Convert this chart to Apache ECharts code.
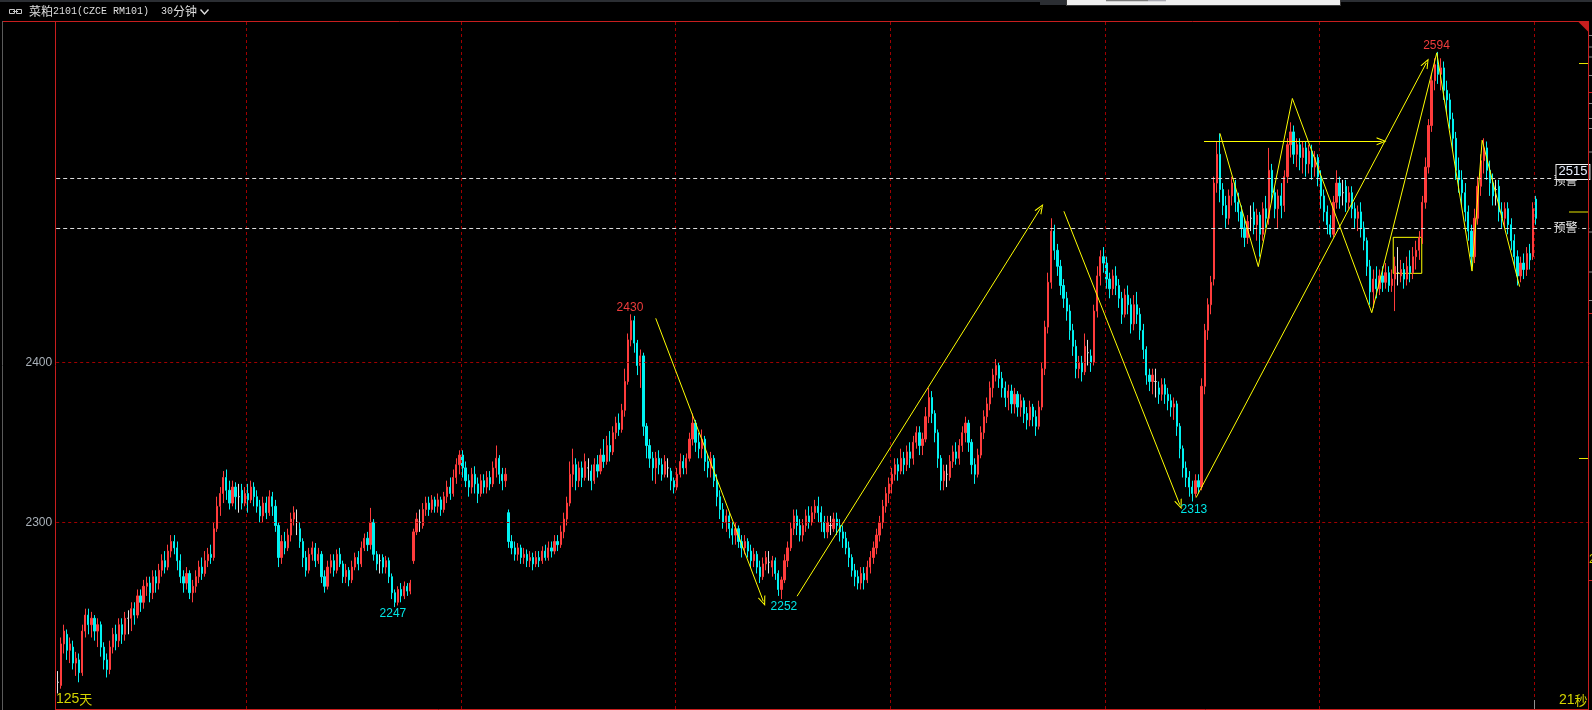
<!DOCTYPE html>
<html><head><meta charset="utf-8">
<script src="https://cdn.jsdelivr.net/npm/echarts@6/dist/echarts.min.js"></script>
<style>html,body{margin:0;padding:0;background:#000;overflow:hidden}#c{width:1592px;height:710px}</style>
</head><body><div id="c"></div>
<script>
// [open, close, low, high] per 30-minute bar
const ohlc = [
[2200,2200,2193,2207],[2198,2224,2196,2228],[2224,2232,2218,2236],[2230,2220,2214,2233],[2220,2224,2212,2228],
[2222,2212,2208,2226],[2212,2215,2204,2219],[2214,2206,2200,2218],[2206,2232,2204,2236],[2232,2242,2228,2246],
[2242,2236,2230,2246],[2236,2240,2228,2244],[2240,2232,2226,2242],[2232,2236,2222,2240],[2236,2222,2216,2238],
[2222,2214,2208,2225],[2214,2208,2203,2218],[2208,2222,2205,2226],[2222,2230,2218,2234],[2230,2226,2220,2236],
[2226,2236,2222,2240],[2236,2230,2224,2240],[2230,2240,2226,2244],[2240,2240,2230,2245],[2240,2246,2232,2250],
[2246,2242,2236,2250],[2242,2254,2240,2258],[2254,2250,2244,2258],[2250,2260,2246,2264],[2260,2262,2254,2266],
[2262,2256,2250,2266],[2256,2266,2252,2270],[2266,2262,2256,2270],[2262,2270,2258,2274],[2270,2276,2266,2280],
[2276,2272,2268,2282],[2272,2282,2270,2286],[2282,2288,2278,2292],[2288,2284,2280,2292],[2284,2276,2270,2288],
[2276,2266,2262,2280],[2266,2262,2256,2270],[2262,2268,2258,2272],[2268,2256,2252,2270],[2256,2260,2250,2264],
[2260,2266,2256,2270],[2266,2272,2262,2276],[2272,2268,2264,2278],[2268,2276,2266,2282],[2276,2280,2272,2284],
[2280,2278,2274,2286],[2278,2296,2276,2300],[2296,2310,2294,2316],[2310,2318,2304,2322],[2318,2328,2312,2332],
[2328,2320,2314,2333],[2320,2312,2308,2326],[2312,2322,2310,2326],[2322,2316,2308,2325],[2316,2316,2306,2324],
[2320,2312,2308,2324],[2312,2318,2310,2322],[2318,2314,2306,2324],[2314,2322,2312,2326],[2322,2316,2310,2325],
[2316,2310,2306,2320],[2310,2304,2300,2314],[2304,2312,2300,2316],[2312,2306,2302,2316],[2306,2316,2304,2320],
[2316,2310,2304,2319],[2310,2298,2294,2314],[2298,2278,2272,2300],[2278,2288,2274,2292],[2288,2284,2280,2294],
[2284,2292,2282,2296],[2292,2302,2288,2306],[2302,2306,2298,2310],[2300,2300,2292,2308],[2296,2288,2284,2300],
[2288,2278,2272,2290],[2278,2270,2266,2282],[2270,2280,2268,2284],[2280,2284,2276,2288],[2284,2276,2272,2287],
[2276,2280,2274,2284],[2280,2266,2262,2282],[2266,2260,2256,2270],[2260,2272,2258,2276],[2272,2276,2268,2280],
[2276,2270,2266,2280],[2270,2280,2268,2283],[2280,2274,2272,2284],[2274,2266,2262,2276],[2266,2270,2262,2274],
[2270,2264,2260,2272],[2264,2272,2262,2276],[2272,2278,2270,2281],[2278,2274,2270,2282],[2274,2284,2272,2288],
[2284,2290,2282,2293],[2290,2286,2282,2294],[2286,2300,2283,2309],[2300,2280,2276,2302],[2280,2274,2270,2282],
[2276,2276,2268,2280],[2278,2272,2268,2280],[2272,2276,2268,2279],[2276,2266,2262,2278],[2266,2256,2252,2268],
[2256,2250,2247,2258],[2250,2258,2248,2260],[2258,2254,2250,2262],[2254,2260,2252,2263],[2260,2257,2254,2262],
[2257,2262,2255,2264],[2276,2294,2274,2296],[2294,2302,2292,2306],[2300,2300,2294,2308],[2298,2308,2296,2312],
[2308,2312,2304,2316],[2312,2308,2304,2316],[2308,2314,2306,2317],[2314,2310,2306,2316],[2310,2314,2306,2318],
[2314,2308,2304,2316],[2308,2316,2306,2319],[2316,2322,2312,2326],[2322,2318,2314,2328],[2318,2328,2316,2333],
[2328,2336,2324,2340],[2336,2342,2330,2345],[2342,2334,2328,2345],[2334,2326,2322,2338],[2326,2322,2316,2330],
[2322,2330,2318,2334],[2330,2324,2318,2335],[2324,2318,2312,2328],[2318,2326,2316,2330],[2326,2322,2318,2330],
[2322,2328,2318,2332],[2328,2324,2320,2332],[2324,2334,2322,2338],[2334,2340,2328,2348],[2340,2330,2324,2342],
[2330,2326,2320,2334],[2326,2330,2322,2334],[2306,2288,2284,2308],[2288,2284,2280,2292],[2284,2280,2276,2288],
[2280,2284,2276,2287],[2284,2278,2274,2286],[2278,2280,2274,2284],[2280,2276,2272,2283],[2276,2278,2272,2282],
[2278,2274,2270,2281],[2274,2278,2272,2282],[2278,2276,2272,2282],[2276,2282,2274,2285],[2282,2278,2276,2286],
[2278,2284,2276,2288],[2284,2282,2278,2288],[2282,2288,2280,2292],[2288,2286,2282,2292],[2286,2294,2284,2298],
[2294,2302,2290,2306],[2302,2312,2298,2316],[2312,2330,2310,2338],[2330,2336,2322,2346],[2336,2326,2320,2340],
[2326,2334,2322,2338],[2334,2328,2322,2338],[2328,2338,2326,2343],[2334,2334,2326,2340],[2332,2326,2320,2336],
[2326,2336,2324,2340],[2336,2332,2328,2342],[2332,2342,2330,2346],[2342,2338,2334,2352],[2338,2348,2336,2354],
[2348,2344,2338,2357],[2344,2356,2342,2360],[2356,2362,2352,2366],[2362,2358,2354,2368],[2358,2370,2356,2374],
[2370,2388,2366,2396],[2388,2414,2386,2418],[2414,2426,2410,2430],[2426,2412,2406,2429],[2412,2398,2392,2414],
[2398,2404,2384,2408],[2404,2360,2354,2406],[2360,2348,2340,2362],[2348,2340,2334,2352],[2340,2334,2326,2344],
[2334,2340,2324,2344],[2340,2336,2330,2345],[2336,2330,2326,2340],[2330,2338,2328,2342],[2334,2334,2328,2340],
[2332,2326,2320,2334],[2326,2322,2318,2328],[2322,2330,2320,2334],[2330,2338,2328,2343],[2338,2334,2330,2342],
[2334,2340,2330,2343],[2340,2352,2338,2356],[2352,2362,2348,2368],[2362,2350,2344,2364],[2350,2346,2340,2356],
[2346,2352,2340,2358],[2352,2338,2332,2354],[2338,2334,2328,2342],[2334,2340,2328,2344],[2340,2326,2322,2342],
[2326,2316,2310,2330],[2316,2308,2302,2320],[2308,2300,2296,2312],[2300,2304,2294,2308],[2304,2296,2290,2306],
[2296,2292,2286,2300],[2292,2296,2286,2300],[2296,2288,2284,2298],[2288,2284,2278,2292],[2284,2288,2280,2292],
[2288,2282,2278,2290],[2282,2276,2272,2286],[2276,2280,2272,2284],[2280,2272,2268,2282],[2272,2266,2262,2276],
[2266,2274,2264,2278],[2274,2278,2270,2282],[2275,2275,2268,2282],[2272,2276,2266,2279],[2276,2268,2264,2278],
[2268,2258,2254,2270],[2258,2264,2252,2266],[2264,2276,2262,2280],[2276,2284,2272,2288],[2284,2296,2282,2300],
[2296,2304,2292,2308],[2304,2298,2292,2308],[2298,2292,2288,2302],[2292,2298,2288,2302],[2298,2304,2294,2308],
[2304,2300,2296,2310],[2300,2306,2298,2310],[2306,2310,2302,2314],[2310,2306,2300,2316],[2306,2300,2294,2310],
[2300,2294,2290,2304],[2294,2300,2290,2304],[2298,2298,2292,2304],[2296,2302,2294,2306],[2302,2298,2292,2306],
[2298,2294,2288,2302],[2294,2290,2284,2298],[2290,2284,2280,2294],[2284,2278,2272,2288],[2278,2270,2266,2280],
[2270,2266,2260,2274],[2266,2262,2258,2270],[2262,2268,2258,2272],[2268,2264,2258,2272],[2264,2272,2262,2276],
[2272,2278,2268,2282],[2278,2284,2274,2288],[2284,2292,2280,2296],[2292,2300,2288,2304],[2300,2310,2296,2314],
[2310,2318,2306,2322],[2318,2324,2312,2328],[2324,2330,2318,2334],[2330,2336,2326,2340],[2336,2332,2326,2340],
[2332,2340,2330,2346],[2340,2336,2330,2344],[2336,2344,2332,2348],[2344,2340,2334,2350],[2340,2350,2336,2354],
[2350,2356,2346,2360],[2356,2348,2342,2360],[2348,2352,2342,2356],[2352,2366,2350,2372],[2366,2378,2362,2384],
[2378,2368,2362,2382],[2368,2356,2350,2370],[2356,2340,2334,2358],[2340,2326,2320,2342],[2326,2332,2320,2336],
[2330,2330,2322,2336],[2328,2338,2326,2342],[2338,2344,2334,2348],[2344,2340,2336,2350],[2340,2348,2336,2352],
[2348,2356,2344,2360],[2356,2362,2350,2366],[2362,2350,2344,2364],[2350,2336,2330,2352],[2336,2330,2324,2340],
[2330,2342,2328,2346],[2342,2356,2340,2360],[2356,2366,2352,2370],[2366,2374,2362,2378],[2374,2384,2370,2388],
[2384,2392,2378,2396],[2392,2398,2388,2402],[2398,2390,2384,2400],[2390,2384,2378,2394],[2384,2378,2372,2388],
[2378,2382,2370,2386],[2382,2374,2368,2386],[2374,2380,2368,2384],[2380,2372,2366,2382],[2372,2376,2366,2380],
[2376,2368,2362,2378],[2368,2364,2358,2372],[2364,2372,2360,2376],[2372,2366,2360,2374],[2366,2360,2354,2370],
[2360,2372,2358,2376],[2372,2396,2370,2400],[2396,2422,2392,2426],[2422,2450,2418,2456],[2450,2482,2446,2490],
[2482,2470,2464,2486],[2470,2460,2454,2474],[2460,2448,2442,2464],[2448,2440,2434,2452],[2440,2432,2426,2444],
[2432,2420,2414,2436],[2420,2410,2404,2424],[2410,2396,2390,2414],[2396,2400,2390,2404],[2400,2394,2388,2404],
[2394,2410,2392,2418],[2406,2406,2398,2414],[2404,2400,2394,2408],[2400,2432,2398,2436],[2432,2454,2428,2460],
[2454,2466,2448,2470],[2466,2462,2456,2472],[2462,2452,2446,2466],[2452,2446,2440,2456],[2446,2454,2442,2458],
[2454,2448,2442,2460],[2448,2440,2434,2452],[2440,2430,2424,2444],[2430,2442,2428,2446],[2442,2436,2430,2448],
[2436,2424,2418,2440],[2424,2436,2420,2442],[2436,2430,2424,2444],[2430,2420,2414,2434],[2420,2408,2402,2424],
[2408,2392,2386,2410],[2392,2388,2382,2396],[2388,2392,2380,2396],[2388,2388,2378,2396],[2384,2380,2374,2388],
[2380,2386,2376,2390],[2386,2380,2374,2390],[2380,2376,2370,2384],[2376,2372,2366,2380],[2372,2374,2364,2378],
[2374,2360,2354,2376],[2360,2346,2340,2362],[2346,2334,2328,2348],[2334,2328,2322,2338],[2328,2322,2316,2332],
[2322,2318,2313,2326],[2318,2326,2316,2330],[2326,2322,2318,2330],[2322,2385,2320,2390],[2385,2420,2380,2424],
[2420,2436,2414,2440],[2436,2450,2430,2454],[2452,2512,2448,2516],[2512,2530,2506,2538],[2530,2508,2500,2543],
[2508,2498,2492,2512],[2498,2490,2484,2504],[2490,2504,2486,2508],[2504,2512,2498,2516],[2512,2500,2494,2514],
[2500,2494,2488,2506],[2494,2484,2478,2498],[2484,2478,2472,2490],[2478,2488,2474,2492],[2490,2490,2482,2498],
[2494,2486,2480,2500],[2486,2492,2476,2496],[2492,2480,2466,2494],[2480,2496,2476,2500],[2496,2490,2484,2504],
[2490,2520,2486,2534],[2520,2506,2500,2524],[2506,2496,2490,2510],[2496,2504,2484,2508],[2504,2498,2490,2512],
[2498,2516,2494,2520],[2516,2536,2512,2540],[2536,2544,2528,2550],[2544,2530,2524,2548],[2530,2536,2522,2540],
[2536,2528,2520,2540],[2528,2534,2518,2538],[2534,2524,2516,2538],[2524,2532,2518,2536],[2532,2522,2514,2536],
[2522,2528,2516,2532],[2528,2516,2510,2530],[2516,2504,2496,2520],[2504,2494,2488,2508],[2494,2486,2480,2498],
[2486,2480,2478,2492],[2480,2500,2478,2504],[2500,2512,2496,2520],[2512,2504,2496,2516],[2506,2506,2498,2514],
[2510,2500,2494,2514],[2500,2506,2496,2510],[2506,2496,2490,2510],[2496,2490,2484,2500],[2490,2494,2482,2498],
[2494,2484,2478,2500],[2484,2476,2470,2488],[2476,2460,2454,2478],[2460,2444,2436,2464],[2444,2452,2434,2458],
[2452,2446,2440,2460],[2446,2454,2442,2458],[2454,2450,2444,2460],[2450,2456,2446,2462],[2456,2448,2444,2460],
[2448,2452,2444,2458],[2452,2460,2432,2466],[2456,2456,2448,2472],[2454,2458,2450,2464],[2458,2452,2446,2462],
[2452,2460,2448,2466],[2460,2456,2450,2470],[2456,2466,2452,2472],[2466,2470,2458,2476],[2470,2478,2464,2482],
[2478,2500,2474,2504],[2500,2522,2496,2528],[2522,2548,2518,2552],[2548,2576,2544,2580],[2576,2586,2570,2590],
[2586,2580,2574,2594],[2580,2584,2570,2590],[2584,2570,2564,2588],[2570,2564,2556,2576],[2564,2552,2546,2568],
[2552,2540,2532,2556],[2540,2520,2514,2544],[2520,2514,2506,2528],[2514,2506,2498,2520],[2506,2494,2488,2512],
[2494,2482,2476,2498],[2482,2466,2458,2486],[2466,2490,2462,2496],[2490,2510,2486,2516],[2510,2526,2504,2530],
[2526,2534,2518,2540],[2534,2520,2514,2538],[2520,2512,2504,2526],[2512,2504,2498,2518],[2508,2508,2498,2514],
[2510,2494,2488,2514],[2494,2490,2484,2500],[2490,2496,2484,2500],[2496,2486,2480,2500],[2486,2476,2470,2490],
[2476,2466,2460,2480],[2466,2454,2448,2470],[2454,2462,2450,2466],[2462,2458,2452,2468],[2458,2468,2454,2472],
[2468,2464,2458,2474],[2466,2496,2464,2500],[2502,2490,2486,2504]
];
const slotCount = 500;                     // category slots on the time axis (bars + right margin)
const yTicks = [2300, 2400];
const alertLevels = [2515, 2484];
const monthBounds = [61.5, 131.5, 201.5, 271.5, 341.5, 411.5, 481.5];
const zigzag = [[379.0,2543.1],[391.5,2459.8],[402.6,2564.9],[428.5,2431.0],[449.7,2593.4],[461.2,2457.0],[464.5,2538.8],[476.7,2447.3]];
const arrowLines = [
  [[195.0,2427.5],[230.1,2250.6]],
  [[241.1,2253.8],[320.5,2496.3]],
  [[328.1,2494.4],[365.9,2311.0]],
  [[371.2,2315.4],[446.3,2587.1]],
  [[373.8,2538.1],[431.7,2538.1]]
];
const boxArea = [[435.5,2478.1],[444.8,2455.6]];
const extremeLabels = [
  {text:'2430', x:186.6, y:2434.4, up:true},
  {text:'2247', x:109.3, y:2242.7, up:false},
  {text:'2252', x:236.8, y:2247.1, up:false},
  {text:'2313', x:370.5, y:2308.0, up:false},
  {text:'2594', x:449.6, y:2597.6, up:true}
];
const categories = [];
for (let i = 0; i < slotCount; i++) categories.push(String(i));

const RED = '#ff3c3c', CYAN = '#00f2f2', YEL = '#ffff00', FRAME = '#c81e1e', GRIDRED = '#a00000';
const NUMFONT = 'Liberation Sans, Arial, sans-serif';
const CJK = 'Noto Sans CJK SC, sans-serif';
const chevron = 'path://M0,10L5,0L10,10L8.6,10L5,2.8L1.4,10Z';

const chart = echarts.init(document.getElementById('c'), null, {renderer: 'canvas'});

const gridMarks = monthBounds.map(v => ({xAxis: v}))
  .concat(yTicks.map(v => ({yAxis: v, label: {show: true, position: 'start', distance: 4, formatter: String(v),
     color: '#a8b0b8', fontSize: 12, fontFamily: NUMFONT}})));

const option = {
  backgroundColor: '#000',
  animation: false,
  grid: {left: 56.2, right: 2.5, top: 21.5, bottom: 1, show: false},
  xAxis: [
    {type: 'category', data: categories, boundaryGap: true, show: false},
    {type: 'value', min: -0.5, max: slotCount - 0.5, show: false}
  ],
  yAxis: {type: 'value', min: 2183.3, max: 2613.0, show: false, scale: true},
  series: [
    { // background grid lines and left price labels
      type: 'line', xAxisIndex: 1, data: [], z: 1, silent: true,
      markLine: {
        silent: true, symbol: ['none', 'none'], animation: false,
        label: {show: false},
        lineStyle: {color: GRIDRED, type: [3, 3], width: 1},
        emphasis: {disabled: true},
        data: gridMarks
      }
    },
    {
      type: 'candlestick', xAxisIndex: 0, data: ohlc, z: 3, barWidth: 1.7,
      itemStyle: {color: RED, color0: CYAN, borderColor: RED, borderColor0: CYAN,
                  borderColorDoji: '#e4e4e4', borderWidth: 1}
    },
    { // drawn annotations
      type: 'line', xAxisIndex: 1, data: zigzag, z: 5, silent: true,
      showSymbol: false, symbol: 'none',
      lineStyle: {color: YEL, width: 1},
      markLine: {
        silent: true, animation: false,
        symbol: ['none', chevron], symbolSize: [8, 10],
        label: {show: false},
        lineStyle: {color: YEL, width: 1, type: 'solid'},
        emphasis: {disabled: true},
        data: arrowLines.map(p => [{coord: p[0]}, {coord: p[1]}])
      },
      markArea: {
        silent: true,
        itemStyle: {color: 'rgba(0,0,0,0)', borderColor: YEL, borderWidth: 1},
        data: [[{coord: boxArea[0]}, {coord: boxArea[1]}]]
      },
      markPoint: {
        silent: true, animation: false,
        symbol: 'circle', symbolSize: 0.1, itemStyle: {color: 'rgba(0,0,0,0)'},
        data: extremeLabels.map(d => ({coord: [d.x, d.y], label: {show: true, position: 'inside', formatter: d.text,
          color: d.up ? '#f03c3c' : '#00e6e6', fontSize: 12, fontFamily: NUMFONT}}))
      }
    },
    { // alert (预警) lines
      type: 'line', xAxisIndex: 1, data: [], z: 6, silent: true,
      markLine: {
        silent: true, symbol: ['none', 'none'], animation: false,
        label: {show: false},
        lineStyle: {color: '#dcdcdc', type: [4, 3], width: 1},
        emphasis: {disabled: true},
        data: alertLevels.map(v => ({yAxis: v}))
      },
      markPoint: {
        silent: true, animation: false,
        symbol: 'circle', symbolSize: 0.1, itemStyle: {color: 'rgba(0,0,0,0)'},
        data: [
          {coord: [491.7, 2513.9], label: {show: true, position: 'inside', formatter: '预警', color: '#f0f0f0',
             fontSize: 12, fontFamily: CJK, backgroundColor: '#000', padding: [0, 1]}},
          {coord: [491.7, 2484.0], label: {show: true, position: 'inside', formatter: '预警', color: '#f0f0f0',
             fontSize: 12, fontFamily: CJK, backgroundColor: '#000', padding: [0, 1]}}
        ]
      }
    },
    { // current alert price box
      type: 'line', xAxisIndex: 1, data: [], z: 8, silent: true,
      markPoint: {
        silent: true, animation: false,
        symbol: 'circle', symbolSize: 0.1, itemStyle: {color: 'rgba(0,0,0,0)'},
        data: [{coord: [494.1, 2519.0], label: {show: true, position: 'inside', formatter: '2515', color: '#e8f0ff',
          fontSize: 13, fontFamily: NUMFONT, backgroundColor: '#000', borderColor: '#f0f0f0', borderWidth: 1,
          padding: [1, 2, 0, 2]}}]
      }
    }
  ],
  graphic: [
    {type: 'rect', shape: {x: 0, y: 0, width: 1592, height: 2}, style: {fill: '#2b2e33'}, silent: true},
    {type: 'rect', shape: {x: 1040, y: 0, width: 27, height: 5}, style: {fill: '#2b2e33'}, silent: true},
    {type: 'rect', shape: {x: 1066.5, y: -1, width: 274, height: 6.5}, style: {fill: '#eeeeee', stroke: '#3a3a3a', lineWidth: 1}, silent: true},
    {type: 'rect', shape: {x: 1106, y: 0, width: 42, height: 1.3}, style: {fill: '#7a7a7a'}, silent: true},
    {type: 'rect', shape: {x: 1148, y: 0, width: 18, height: 1.3}, style: {fill: '#a9a9b2'}, silent: true},
    // link icon
    {type: 'rect', shape: {x: 9.5, y: 9.5, width: 5, height: 4}, style: {fill: 'none', stroke: '#c8c8c8', lineWidth: 1}, silent: true},
    {type: 'rect', shape: {x: 16.5, y: 9.5, width: 5, height: 4}, style: {fill: 'none', stroke: '#c8c8c8', lineWidth: 1}, silent: true},
    {type: 'line', shape: {x1: 13, y1: 11.5, x2: 18, y2: 11.5}, style: {stroke: '#c8c8c8', lineWidth: 1}, silent: true},
    {type: 'text', left: 29, top: 5, silent: true, style: {text: '{c|菜粕}{m|2101(CZCE RM101)}', fill: '#dedede',
      rich: {c: {fontSize: 12, fontFamily: CJK, fill: '#dedede'}, m: {fontSize: 10, fontFamily: 'Liberation Mono, DejaVu Sans Mono, monospace', fill: '#dedede'}}}},
    {type: 'text', left: 161, top: 5, silent: true, style: {text: '{m|30}{c|分钟}', fill: '#dedede',
      rich: {c: {fontSize: 12, fontFamily: CJK, fill: '#dedede'}, m: {fontSize: 10, fontFamily: 'Liberation Mono, DejaVu Sans Mono, monospace', fill: '#dedede'}}}},
    {type: 'polyline', shape: {points: [[200.5, 9.5], [204.5, 14], [208.5, 9.5]]}, style: {stroke: '#dedede', lineWidth: 1.4, fill: 'none'}, silent: true},
    // frame
    {type: 'line', shape: {x1: 2.5, y1: 21, x2: 2.5, y2: 710}, style: {stroke: '#5a5a5a', lineWidth: 1}, silent: true},
    {type: 'line', shape: {x1: 3, y1: 21.5, x2: 1589, y2: 21.5}, style: {stroke: FRAME, lineWidth: 1}, silent: true, z: 20},
    {type: 'line', shape: {x1: 55.5, y1: 21.5, x2: 55.5, y2: 710}, style: {stroke: FRAME, lineWidth: 1}, silent: true, z: 20},
    {type: 'line', shape: {x1: 55, y1: 709.5, x2: 1589, y2: 709.5}, style: {stroke: FRAME, lineWidth: 1}, silent: true, z: 20},
    {type: 'line', shape: {x1: 1588.5, y1: 21.5, x2: 1588.5, y2: 710}, style: {stroke: FRAME, lineWidth: 1}, silent: true, z: 20},
    {type: 'polygon', shape: {points: [[1578, 21.5], [1588.5, 21.5], [1588.5, 32]]}, style: {fill: FRAME}, silent: true, z: 20},
    // right edge ticks
    {type: 'group', silent: true, z: 20, children:
      [35, 46.5, 56.5, 75, 103, 118, 128, 151.5, 231.5, 271.5, 300].map(y => ({type: 'line',
        shape: {x1: 1589, y1: y + 0.5, x2: 1592, y2: y + 0.5}, style: {stroke: '#8a8a8a', lineWidth: 1}}))
      .concat([92, 313, 580].map(y => ({type: 'line', shape: {x1: 1588, y1: y + 0.5, x2: 1592, y2: y + 0.5}, style: {stroke: FRAME, lineWidth: 1}})))
      .concat([[1579, 63], [1569, 211.5], [1579, 458]].map(p => ({type: 'line', shape: {x1: p[0], y1: p[1] + 0.5, x2: 1588, y2: p[1] + 0.5}, style: {stroke: '#e6e600', lineWidth: 1}})))
    },
    {type: 'text', left: 1589, top: 554, silent: true, z: 20, style: {text: '2', fill: '#d4d400', fontSize: 12, fontFamily: NUMFONT}},
    {type: 'line', shape: {x1: 1534.5, y1: 700, x2: 1534.5, y2: 709}, style: {stroke: '#909090', lineWidth: 1}, silent: true, z: 20},
    // footer texts
    {type: 'text', left: 56, top: 692, silent: true, z: 20, style: {text: '{m|125}{c|天}', fill: '#d4d400',
      rich: {m: {fontSize: 14, fontFamily: NUMFONT, fill: '#d4d400'}, c: {fontSize: 13, fontFamily: CJK, fill: '#d4d400'}}}},
    {type: 'text', left: 1559, top: 693, silent: true, z: 20, style: {text: '{m|21}{c|秒}', fill: '#d4d400',
      rich: {m: {fontSize: 14, fontFamily: NUMFONT, fill: '#d4d400'}, c: {fontSize: 13, fontFamily: CJK, fill: '#d4d400'}}}}
  ]
};
chart.setOption(option);
</script>
</body></html>
